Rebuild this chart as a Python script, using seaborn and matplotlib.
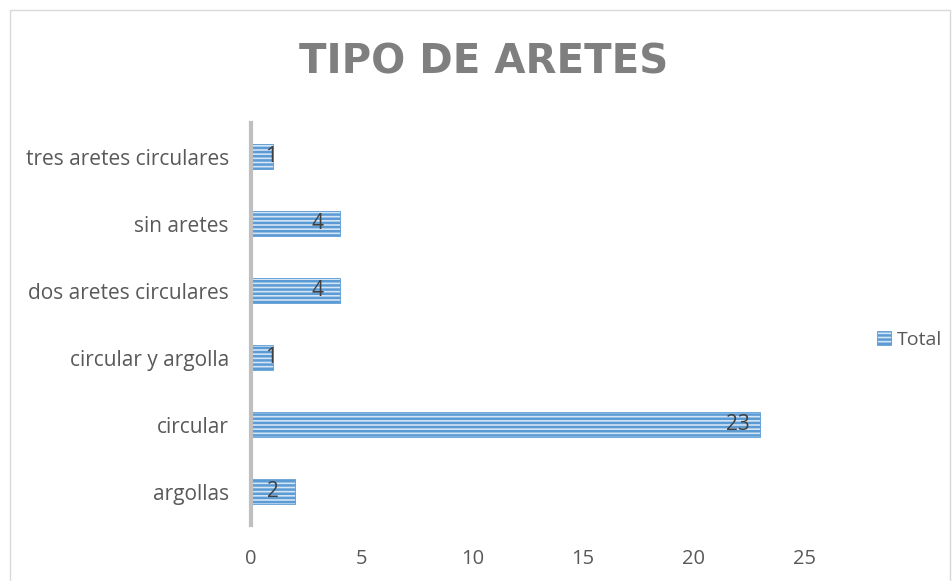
import matplotlib
matplotlib.use("Agg")
import matplotlib.pyplot as plt
import seaborn as sns
from matplotlib.patches import Rectangle, Patch

# datos
categorias = ["tres aretes circulares", "sin aretes", "dos aretes circulares",
              "circular y argolla", "circular", "argollas"]
totales = [1, 4, 4, 1, 23, 2]
ticks_x = [0, 5, 10, 15, 20, 25]

sns.set_theme(style="white")
plt.rcParams["font.family"] = ["Open Sans", "DejaVu Sans"]
plt.rcParams["hatch.linewidth"] = 1.8

gris = "#595959"
fondo_barra = "#D3E4F5"
linea_barra = "#5B9BD5"

fig = plt.figure(figsize=(9.52, 5.81), dpi=100)
ax = fig.add_axes([0.2637, 0.0964, 0.845 - 0.2637, 0.788 - 0.0964])

sns.barplot(x=totales, y=categorias, orient="h", ax=ax, width=0.38,
            color=fondo_barra, saturation=1)
for bar in ax.patches:
    bar.set_hatch("----")
    bar.set_edgecolor(linea_barra)
    bar.set_linewidth(0.6)

# etiquetas de valor, dentro del extremo
for i, v in enumerate(totales):
    ax.text(max(v - 1, 0.9), i, str(v), ha="center", va="center",
            fontsize=15, color="#404040")

ax.set_xlim(0, 25)
ax.set_xticks(ticks_x)
ax.set_xlabel("")
ax.set_ylabel("")
ax.tick_params(axis="x", length=0, pad=17, labelsize=14.5, labelcolor=gris)
ax.tick_params(axis="y", length=0, pad=16, labelsize=15, labelcolor=gris)

for s in ["top", "right", "bottom"]:
    ax.spines[s].set_visible(False)
ax.spines["left"].set_color("#BFBFBF")
ax.spines["left"].set_linewidth(3)
ax.grid(False)

fig.text(0.508, 0.893, "TIPO DE ARETES", ha="center", va="center",
         fontsize=29, fontweight="bold", color="#7F7F7F", family="DejaVu Sans")

leyenda = [Patch(facecolor=fondo_barra, edgecolor=linea_barra, hatch="----",
                 linewidth=0.6, label="Total")]
fig.legend(handles=leyenda, loc="center left", bbox_to_anchor=(0.903, 0.415),
           frameon=False, fontsize=14, labelcolor=gris, handlelength=0.7,
           handleheight=0.7, handletextpad=0.3)

# marco del gráfico
fig.patches.append(Rectangle((0.0105, -0.05), 0.987, 1.033, transform=fig.transFigure,
                             fill=False, edgecolor="#D9D9D9", linewidth=1))

fig.savefig("out.png", dpi=100)
